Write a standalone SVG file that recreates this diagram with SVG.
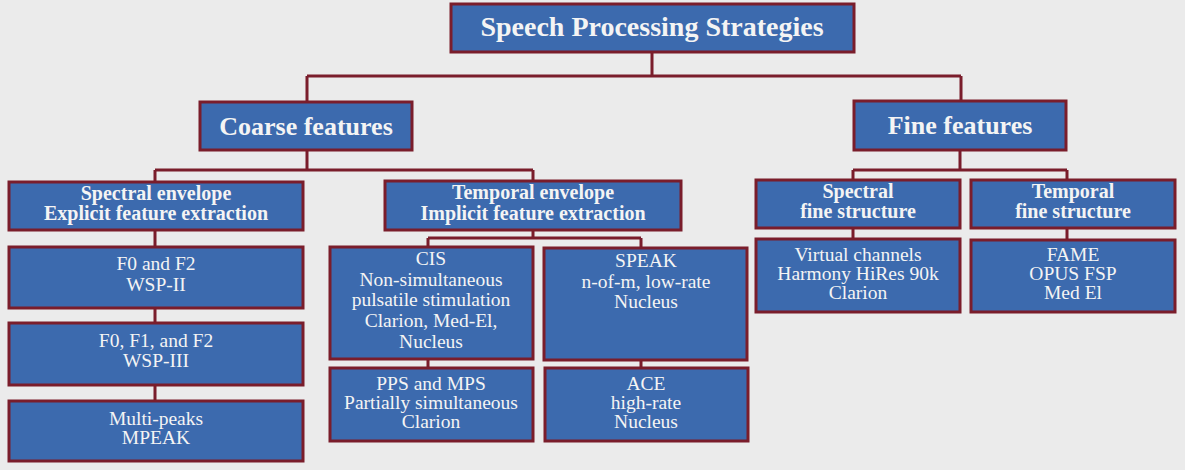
<svg xmlns="http://www.w3.org/2000/svg" width="1185" height="470" viewBox="0 0 1185 470">
<style>
.bg{fill:#ebebeb}
.box{fill:#3c6aae;stroke:#7a1d2b;stroke-width:3}
.wire{fill:none;stroke:#7a1d2b;stroke-width:3}
text{fill:#f4f4f4;font-family:"Liberation Serif","Times New Roman",serif;text-anchor:middle}
.h1{font-size:28px;font-weight:bold}
.h2{font-size:26px;font-weight:bold}
.h3{font-size:20px;font-weight:bold}
.lf{font-size:19.5px}
</style>
<rect class="bg" x="0" y="0" width="1185" height="470"/>
<g id="connectors">
<path class="wire" d="M652,52V76M307,76H961M307,76V102M961,76V101"/>
<path class="wire" d="M307,150V170M155,170H533M155,170V182M533,170V181"/>
<path class="wire" d="M960,150V170M853,170H1067M853,170V179M1067,170V179"/>
<path class="wire" d="M155,230V247M155,308V323M155,385V401"/>
<path class="wire" d="M533,230V238M428,238H641M428,238V247M641,238V248"/>
<path class="wire" d="M428,359V368M641,360V368"/>
<path class="wire" d="M853,228V239M1067,228V240"/>
</g>
<g id="root">
<rect class="box" x="451" y="4" width="403" height="48"/>
<text class="h1" x="652" y="36">Speech Processing Strategies</text>
</g>
<g id="coarse">
<rect class="box" x="200" y="102" width="212" height="48"/>
<text class="h2" x="306" y="135">Coarse features</text>
</g>
<g id="fine">
<rect class="box" x="854" y="101" width="212" height="49"/>
<text class="h2" x="960" y="134">Fine features</text>
</g>
<g id="spectral-envelope">
<rect class="box" x="9" y="182" width="294" height="48"/>
<text class="h3" x="156" y="200">Spectral envelope</text>
<text class="h3" x="156" y="220">Explicit feature extraction</text>
</g>
<g id="temporal-envelope">
<rect class="box" x="385" y="181" width="296" height="49"/>
<text class="h3" x="533" y="199">Temporal envelope</text>
<text class="h3" x="533" y="220">Implicit feature extraction</text>
</g>
<g id="spectral-fine">
<rect class="box" x="756" y="180" width="204" height="48"/>
<text class="h3" x="858" y="198">Spectral</text>
<text class="h3" x="858" y="218">fine structure</text>
</g>
<g id="temporal-fine">
<rect class="box" x="971" y="180" width="204" height="48"/>
<text class="h3" x="1073" y="198">Temporal</text>
<text class="h3" x="1073" y="218">fine structure</text>
</g>
<g id="wsp2">
<rect class="box" x="9" y="247" width="294" height="61"/>
<text class="lf" x="156" y="270">F0 and F2</text>
<text class="lf" x="156" y="291">WSP-II</text>
</g>
<g id="wsp3">
<rect class="box" x="9" y="323" width="294" height="62"/>
<text class="lf" x="156" y="347">F0, F1, and F2</text>
<text class="lf" x="156" y="367">WSP-III</text>
</g>
<g id="mpeak">
<rect class="box" x="9" y="401" width="294" height="60"/>
<text class="lf" x="156" y="425">Multi-peaks</text>
<text class="lf" x="156" y="444">MPEAK</text>
</g>
<g id="cis">
<rect class="box" x="330" y="247" width="203" height="112"/>
<text class="lf" x="431" y="265">CIS</text>
<text class="lf" x="431" y="286">Non-simultaneous</text>
<text class="lf" x="431" y="306">pulsatile stimulation</text>
<text class="lf" x="431" y="327">Clarion, Med-El,</text>
<text class="lf" x="431" y="348">Nucleus</text>
</g>
<g id="speak">
<rect class="box" x="544" y="248" width="203" height="112"/>
<text class="lf" x="646" y="267">SPEAK</text>
<text class="lf" x="646" y="288">n-of-m, low-rate</text>
<text class="lf" x="646" y="308">Nucleus</text>
</g>
<g id="pps">
<rect class="box" x="330" y="368" width="203" height="73"/>
<text class="lf" x="431" y="390">PPS and MPS</text>
<text class="lf" x="431" y="409">Partially simultaneous</text>
<text class="lf" x="431" y="428">Clarion</text>
</g>
<g id="ace">
<rect class="box" x="545" y="368" width="203" height="73"/>
<text class="lf" x="646" y="390">ACE</text>
<text class="lf" x="646" y="409">high-rate</text>
<text class="lf" x="646" y="428">Nucleus</text>
</g>
<g id="virtual">
<rect class="box" x="756" y="239" width="204" height="73"/>
<text class="lf" x="858" y="261">Virtual channels</text>
<text class="lf" x="858" y="280">Harmony HiRes 90k</text>
<text class="lf" x="858" y="299">Clarion</text>
</g>
<g id="fame">
<rect class="box" x="971" y="240" width="204" height="72"/>
<text class="lf" x="1073" y="261">FAME</text>
<text class="lf" x="1073" y="280">OPUS FSP</text>
<text class="lf" x="1073" y="299">Med El</text>
</g>
</svg>
